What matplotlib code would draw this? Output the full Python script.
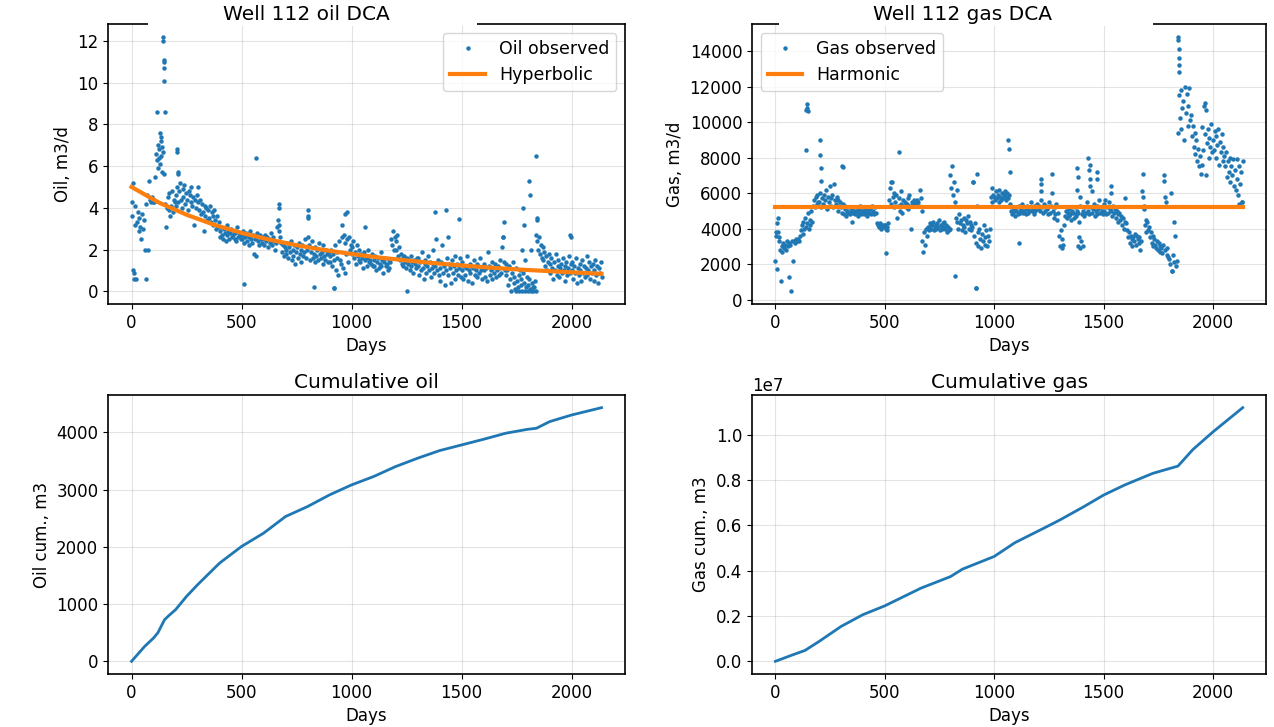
import numpy as np
import matplotlib
matplotlib.use("Agg")
import matplotlib.pyplot as plt
from matplotlib.patches import Rectangle

# daily-ish observations, one reading every 4 days (0 .. 2136)
rate_days = np.arange(0, 2137, 4)

oil_rate = [
    4.3, 3.6, 5.2, 0.9, 4.1, 0.6, 3.3, 3.8, 2.9, 3.5, 3.1, 2.5, 3.7, 3.0, 3.4, 2.0, 4.2, 0.6, 4.6, 2.0, 5.3, 4.4, 4.3, 4.5, 4.3,
    4.4, 4.3, 5.5, 6.6, 6.3, 7.0, 6.8, 6.1, 6.5, 7.2, 5.7, 6.7, 5.6, 4.2, 3.1, 4.0, 4.5, 3.9, 4.7, 3.6, 4.1, 4.8, 3.8, 4.4, 4.3,
    4.6, 4.1, 5.0, 4.3, 4.8, 5.2, 4.4, 4.0, 4.9, 4.5, 5.1, 4.2, 4.7, 4.4, 3.9, 4.8, 4.6, 4.3, 5.0, 4.1, 4.5, 3.2, 4.4, 4.0, 4.6,
    4.3, 5.0, 3.9, 4.4, 3.7, 4.2, 3.8, 2.9, 4.1, 3.6, 4.0, 3.4, 3.9, 3.5, 4.1, 3.3, 3.8, 3.6, 3.2, 3.9, 3.4, 3.0, 3.6, 3.1, 3.3,
    2.9, 2.6, 3.1, 2.7, 2.5, 3.0, 2.8, 2.4, 3.2, 2.7, 2.9, 2.5, 2.8, 3.0, 2.6, 2.7, 2.9, 2.5, 2.8, 2.4, 3.1, 2.6, 2.8, 2.7, 2.5,
    2.7, 2.5, 2.9, 2.3, 2.6, 2.8, 2.4, 2.7, 2.2, 2.6, 2.9, 2.5, 2.3, 2.7, 1.8, 2.5, 1.7, 2.6, 2.8, 2.4, 2.2, 2.7, 2.5, 2.3, 2.6,
    2.5, 2.2, 2.7, 2.4, 2.6, 2.1, 2.5, 2.3, 2.8, 2.4, 2.2, 2.6, 2.4, 2.0, 2.3, 3.1, 3.4, 2.9, 3.2, 2.6, 2.3, 1.9, 2.2, 1.7, 2.1,
    2.0, 1.8, 2.3, 1.6, 2.1, 1.9, 2.4, 1.5, 2.0, 1.7, 2.2, 1.3, 1.9, 2.1, 1.6, 2.3, 1.8, 2.0, 1.4, 2.2, 1.7, 1.9, 2.5, 1.6, 2.0,
    2.6, 3.6, 2.2, 1.5, 1.9, 2.4, 1.6, 1.8, 2.1, 1.4, 1.7, 2.0, 1.5, 2.3, 1.8, 1.6, 1.9, 1.3, 2.2, 1.7, 1.5, 2.0, 1.8, 1.4, 1.9,
    1.7, 1.4, 2.0, 1.2, 1.8, 1.5, 2.2, 1.0, 1.6, 1.9, 0.8, 2.4, 1.5, 1.3, 2.6, 1.1, 2.7, 0.9, 2.3, 1.8, 2.5, 1.4, 2.6, 2.0, 2.2,
    2.1, 1.8, 2.4, 1.6, 1.9, 1.3, 2.2, 1.7, 1.5, 2.0, 1.4, 1.8, 1.6, 1.1, 1.9, 1.5, 1.7, 1.2, 1.6, 2.0, 1.4, 1.5, 1.3, 1.8, 1.2,
    1.5, 1.2, 1.7, 1.0, 1.4, 1.6, 1.1, 1.3, 1.9, 1.2, 1.5, 0.9, 1.4, 1.6, 1.2, 1.3, 1.0, 1.5, 1.1, 1.4, 2.5, 2.2, 2.9, 2.0, 2.6,
    2.4, 2.0, 2.7, 1.7, 2.1, 1.5, 1.8, 1.3, 1.6, 1.2, 1.7, 1.4, 1.1, 1.6, 1.3, 1.5, 1.0, 1.7, 1.2, 1.4, 0.9, 1.5, 1.3, 1.1, 1.6,
    1.2, 1.6, 0.8, 1.4, 1.0, 1.9, 1.1, 0.6, 1.3, 1.5, 0.9, 1.2, 1.7, 1.0, 1.4, 0.7, 1.1, 1.3, 2.0, 0.9, 1.2, 2.5, 1.0, 1.5, 0.8,
    1.1, 0.5, 1.4, 2.2, 0.9, 1.2, 0.3, 1.0, 1.6, 2.6, 0.8, 1.3, 1.1, 0.4, 1.5, 0.9, 1.2, 1.7, 0.6, 1.0, 1.3, 0.8, 1.1, 1.6, 0.7,
    1.0, 1.4, 0.6, 1.2, 0.8, 1.1, 1.7, 0.5, 1.0, 1.3, 0.9, 1.2, 0.4, 1.1, 1.5, 0.8, 1.0, 1.3, 0.7, 1.2, 0.9, 1.6, 1.0, 0.6, 1.1,
    1.0, 1.3, 0.7, 1.1, 0.5, 1.9, 1.2, 0.8, 1.0, 1.4, 0.6, 1.1, 0.9, 1.3, 0.7, 1.0, 1.2, 0.8, 1.1, 1.5, 0.9, 2.1, 2.6, 1.4, 1.0,
    1.3, 0.8, 1.0, 0.3, 1.2, 0.6, 0.0, 0.9, 1.4, 0.4, 0.7, 0.1, 1.1, 0.5, 0.2, 0.8, 1.0, 0.3, 0.6, 0.0, 0.9, 0.4, 1.5, 0.2, 0.7,
    0.3, 0.0, 0.6, 0.1, 2.0, 0.4, 0.0, 0.2, 0.5, 0.0, 2.7, 2.4, 2.0, 2.6, 1.8, 2.2, 1.6, 2.1, 1.5, 1.9, 1.2, 1.7, 1.0, 1.4, 1.8,
    1.3, 0.9, 1.6, 1.1, 0.6, 1.4, 1.0, 1.8, 0.8, 1.2, 1.5, 0.7, 1.1, 1.3, 0.9, 1.6, 1.0, 0.5, 1.2, 1.4, 0.8, 1.1, 1.7, 0.9, 1.3,
    1.0, 1.4, 0.6, 1.2, 0.9, 1.6, 0.4, 1.1, 0.8, 1.3, 1.0, 0.5, 1.5, 0.9, 1.2, 0.7, 1.1, 1.7, 0.8, 1.0, 1.4, 0.6, 1.2, 0.9, 1.3,
    1.0, 0.5, 1.5, 0.8, 1.2, 0.4, 1.1, 0.9, 1.4, 0.7,
]

# spikes / outliers that fall between the 4-day readings
oil_extra_days = [8, 12, 16, 114, 122, 126, 130, 134, 138, 143, 145, 146, 147, 148, 149, 153, 205, 207, 212, 213,
                  510, 567, 668, 670, 802, 804, 830, 918, 922, 958, 970, 980, 1060, 1250, 1380, 1430, 1488,
                  1690, 1695, 1746, 1762, 1776, 1778, 1782, 1790, 1808, 1812, 1815, 1826, 1840, 1842, 1844, 1994, 1998]
oil_extra_vals = [1.0, 0.6, 3.2, 8.6, 5.9, 6.4, 7.6, 7.4, 6.9, 12.2, 12.0, 11.1, 11.0, 10.7, 10.1, 8.6, 6.8, 6.7, 5.7, 5.6,
                  0.35, 6.4, 4.2, 4.0, 3.9, 3.5, 0.2, 0.15, 0.15, 3.2, 3.7, 3.8, 3.1, 0.0, 3.8, 3.9, 3.45,
                  2.6, 3.3, 0.0, 0.0, 2.0, 4.0, 3.2, 0.0, 5.3, 4.6, 0.0, 0.2, 6.5, 3.5, 3.4, 2.7, 2.6]

# gas observations, thousand m3/d
gas_rate_k = [
    2.2, 3.8, 1.7, 4.6, 3.3, 2.8, 1.05, 3.0, 2.7, 3.2, 2.9, 3.1, 2.8, 3.3, 3.0, 3.2, 1.25, 3.1, 0.47, 3.3, 2.15, 3.3, 3.2, 3.4, 3.3,
    3.3, 3.4, 3.3, 3.6, 3.9, 4.2, 3.7, 4.4, 4.0, 4.6, 4.1, 4.3, 4.9, 4.0, 4.5, 4.2, 5.0, 4.4, 5.3, 5.6, 5.2, 5.8, 5.4, 5.9, 5.5,
    5.5, 6.0, 5.2, 5.7, 5.4, 5.9, 5.3, 5.6, 6.2, 5.1, 5.8, 5.5, 6.4, 5.3, 5.7, 5.9, 5.2, 6.5, 5.6, 5.4, 5.8, 5.0, 5.6, 5.3, 5.5,
    5.2, 4.9, 5.4, 4.8, 5.1, 5.3, 4.7, 5.0, 4.9, 5.2, 4.8, 5.0, 4.4, 5.1, 4.9, 5.0, 4.8, 5.2, 5.0, 4.7, 5.1, 4.9, 5.3, 4.8, 5.0,
    5.0, 4.8, 5.1, 4.9, 5.2, 4.7, 5.0, 4.9, 5.1, 4.8, 5.3, 4.9, 5.0, 4.8, 5.2, 4.9, 4.3, 4.2, 4.1, 4.3, 4.2, 4.0, 4.2, 4.1, 4.2,
    4.2, 4.0, 4.1, 3.9, 4.3, 5.6, 6.3, 5.4, 6.6, 5.8, 5.2, 6.0, 5.5, 5.9, 4.6, 5.3, 5.7, 5.0, 6.1, 5.4, 4.9, 5.6, 5.3, 5.5, 5.2,
    5.4, 5.7, 5.1, 5.9, 5.3, 4.0, 5.5, 5.4, 5.6, 5.3, 5.5, 5.4, 5.6, 5.5, 5.3, 6.2, 5.7, 5.0, 3.3, 2.7, 3.8, 3.1, 4.0, 3.6, 4.1,
    3.9, 4.1, 4.3, 4.0, 4.2, 4.4, 3.9, 4.1, 4.2, 4.0, 4.3, 4.1, 4.5, 3.9, 4.2, 4.0, 4.3, 4.1, 4.4, 4.0, 4.2, 3.8, 4.1, 3.9, 4.0,
    7.0, 6.3, 7.5, 5.9, 6.6, 5.5, 4.6, 6.2, 4.4, 4.0, 4.8, 4.3, 4.5, 3.9, 4.2, 4.6, 4.1, 3.8, 4.5, 4.3, 4.7, 4.0, 4.4, 4.2, 3.9,
    4.1, 6.6, 3.6, 4.3, 3.2, 5.3, 3.8, 3.0, 4.0, 3.4, 2.9, 3.7, 3.3, 4.2, 3.5, 3.1, 3.9, 3.0, 3.6, 3.3, 4.0, 5.8, 5.5, 6.3, 5.9,
    5.8, 5.6, 6.1, 5.7, 5.9, 5.5, 6.2, 5.8, 5.6, 6.0, 5.7, 5.9, 6.1, 5.6, 5.8, 6.0, 5.7, 5.9, 5.4, 5.0, 4.8, 5.2, 4.9, 5.1, 4.7,
    5.0, 5.2, 4.8, 5.3, 5.0, 4.9, 5.1, 5.4, 4.9, 5.0, 5.2, 4.8, 5.1, 5.3, 4.9, 5.0, 5.2, 5.5, 5.0, 5.1, 4.8, 5.3, 5.0, 5.2, 5.4,
    5.1, 5.3, 5.0, 5.6, 6.1, 5.2, 4.9, 5.4, 5.0, 5.3, 5.1, 4.8, 5.2, 5.5, 4.9, 5.3, 6.0, 5.0, 4.6, 5.2, 4.8, 5.4, 4.5, 4.9, 3.6,
    3.0, 3.9, 2.9, 3.4, 3.1, 4.2, 4.7, 5.0, 4.6, 4.9, 5.1, 4.7, 4.8, 4.5, 5.0, 4.9, 4.6, 5.2, 4.8, 4.7, 5.0, 4.9, 4.4, 5.3, 3.3,
    4.8, 3.0, 5.0, 4.7, 5.2, 4.9, 5.5, 5.0, 4.8, 7.6, 6.4, 5.2, 4.9, 5.1, 5.4, 4.7, 5.0, 5.3, 4.8, 5.1, 5.6, 4.9, 5.2, 5.0, 4.8,
    5.4, 5.0, 5.6, 4.8, 5.2, 4.9, 5.5, 5.1, 6.4, 5.0, 4.7, 5.3, 4.9, 5.1, 4.6, 5.0, 4.8, 4.4, 4.9, 4.5, 4.7, 4.2, 4.6, 4.0, 4.4,
    5.7, 4.3, 3.9, 3.5, 3.8, 3.2, 3.6, 3.4, 3.0, 3.5, 3.3, 3.7, 3.1, 3.6, 3.4, 3.2, 3.5, 2.8, 3.3, 6.1, 7.1, 5.3, 4.2, 4.5, 3.8,
    4.4, 3.9, 4.1, 3.5, 3.8, 3.2, 3.6, 3.0, 3.4, 3.1, 2.9, 3.3, 2.8, 3.2, 2.7, 3.0, 2.9, 2.6, 3.1, 7.0, 2.8, 5.5, 2.5, 2.9, 2.4,
    2.3, 2.0, 6.0, 1.6, 2.5, 4.4, 2.1, 3.6, 1.9, 2.2, 9.4, 11.5, 10.2, 11.8, 9.6, 10.8, 11.2, 9.0, 12.0, 10.5, 11.6, 9.8, 10.9, 11.9, 10.1,
    10.4, 9.2, 9.8, 8.6, 9.4, 8.2, 9.0, 7.8, 8.5, 7.5, 8.1, 7.1, 9.7, 7.6, 8.4, 10.9, 9.3, 7.0, 8.8, 9.6, 8.0, 9.1, 8.6, 9.9, 8.3,
    9.0, 8.4, 9.5, 8.0, 9.2, 8.7, 9.6, 7.6, 8.9, 8.3, 9.3, 7.8, 8.6, 8.1, 7.5, 8.3, 6.9, 7.8, 7.2, 8.0, 6.6, 7.5, 7.0, 7.9, 6.4,
    7.3, 6.2, 7.9, 6.8, 5.9, 7.5, 6.5, 7.2, 5.5, 7.8,
]

gas_extra_days = [3, 6, 10, 18, 140, 142, 144, 146, 148, 203, 205, 207, 209, 305, 307, 505, 528, 567,
                  820, 903, 915, 918, 920, 1065, 1068, 1073, 1115, 1213, 1215, 1265,
                  1377, 1379, 1382, 1384, 1386, 1390, 1392, 1430, 1434, 1440, 1448, 1470, 1472,
                  1532, 1682, 1685, 1778, 1782, 1812, 1840, 1841, 1843, 1844, 1845, 1846, 1962, 1966, 2120, 2132]
gas_extra_k = [3.6, 4.3, 3.8, 3.5, 8.45, 10.7, 11.0, 10.8, 10.6, 8.15, 9.0, 7.4, 6.7, 7.5, 7.45, 2.65, 6.6, 8.3,
               1.35, 6.6, 0.65, 0.65, 7.1, 9.0, 8.5, 7.2, 3.2, 6.8, 6.5, 7.1,
               6.2, 7.4, 6.9, 3.0, 3.5, 2.9, 5.8, 8.0, 7.3, 6.8, 6.1, 7.2, 6.8,
               6.0, 5.8, 5.1, 6.7, 5.8, 1.6, 14.8, 14.6, 14.1, 13.6, 13.2, 12.8, 11.1, 10.7, 5.4, 5.5]

# fitted curves
hyp_days = [0, 125, 250, 375, 500, 625, 750, 875, 1000, 1125, 1250, 1375, 1500, 1625, 1750, 1875, 2000, 2136]
hyp_rate = [5.00, 4.25, 3.67, 3.19, 2.80, 2.48, 2.21, 1.98, 1.79, 1.62, 1.48, 1.35, 1.24, 1.14, 1.05, 0.98, 0.91, 0.84]

harm_days = [0, 2136]
harm_rate = [5190, 5190]

# cumulative production
cum_oil_days = [0, 60, 100, 120, 150, 170, 200, 250, 300, 400, 500, 600, 700, 800, 900, 1000, 1100,
                1200, 1300, 1400, 1500, 1600, 1700, 1800, 1840, 1900, 2000, 2136]
cum_oil = [0, 262, 407, 500, 727, 800, 901, 1134, 1337, 1715, 2006, 2238, 2529, 2703, 2907, 3081, 3227,
           3401, 3547, 3680, 3779, 3878, 3983, 4052, 4070, 4186, 4302, 4430]

cum_gas_days = [0, 80, 135, 200, 300, 400, 500, 665, 800, 855, 1000, 1095, 1225, 1300, 1410, 1500,
                1595, 1670, 1725, 1840, 1908, 2000, 2136]
cum_gas_1e7 = [0, 0.029, 0.048, 0.088, 0.154, 0.206, 0.245, 0.323, 0.374, 0.407, 0.463, 0.524, 0.587,
               0.624, 0.683, 0.734, 0.778, 0.808, 0.830, 0.862, 0.935, 1.013, 1.120]

assert len(oil_rate) == len(rate_days) and len(gas_rate_k) == len(rate_days)

plt.rcParams.update({
    "font.family": "DejaVu Sans",
    "xtick.labelsize": 12,
    "ytick.labelsize": 12,
    "axes.labelsize": 12,
    "axes.titlesize": 14.5,
    "legend.fontsize": 12.5,
    "axes.linewidth": 1.2,
})

fig = plt.figure(figsize=(12.74, 7.27), dpi=100)
ax_oil = fig.add_axes([0.0848, 0.5818, 0.4058, 0.3851])
ax_gas = fig.add_axes([0.5903, 0.5818, 0.4035, 0.3851])
ax_coil = fig.add_axes([0.0848, 0.0729, 0.4058, 0.3838])
ax_cgas = fig.add_axes([0.5903, 0.0729, 0.4035, 0.3838])

oil_t = np.concatenate([rate_days, oil_extra_days])
oil_q = np.concatenate([oil_rate, oil_extra_vals])
gas_t = np.concatenate([rate_days, gas_extra_days])
gas_q = np.concatenate([gas_rate_k, gas_extra_k]) * 1000

ax_oil.plot(oil_t, oil_q, ".", color="C0", ms=4.4, label="Oil observed")
ax_oil.plot(hyp_days, hyp_rate, color="C1", lw=3, label="Hyperbolic")
ax_oil.set_ylabel("Oil, m3/d")
ax_oil.set_xlabel("Days")
ax_oil.set_title("Well 112 oil DCA", x=0.383, pad=1.5, zorder=6)
ax_oil.legend(loc="upper right")

ax_gas.plot(gas_t, gas_q, ".", color="C0", ms=4.4, label="Gas observed")
ax_gas.plot(harm_days, harm_rate, color="C1", lw=3, label="Harmonic")
ax_gas.set_ylabel("Gas, m3/d")
ax_gas.set_xlabel("Days")
ax_gas.set_title("Well 112 gas DCA", x=0.409, pad=1.5, zorder=6)
ax_gas.legend(loc="upper left")

ax_coil.plot(cum_oil_days, cum_oil, color="C0", lw=2)
ax_coil.set_ylabel("Oil cum., m3")
ax_coil.set_xlabel("Days")
ax_coil.set_title("Cumulative oil", pad=5)

ax_cgas.plot(cum_gas_days, np.array(cum_gas_1e7) * 1e7, color="C0", lw=2)
ax_cgas.set_ylabel("Gas cum., m3")
ax_cgas.set_xlabel("Days")
ax_cgas.set_title("Cumulative gas", pad=5)

for ax in (ax_oil, ax_gas, ax_coil, ax_cgas):
    ax.grid(True, alpha=0.35)
    ax.set_xticks([0, 500, 1000, 1500, 2000])

# gaps in the top frame behind the upper titles
for ax, x0, x1 in ((ax_oil, 0.078, 0.713), (ax_gas, 0.052, 0.780)):
    ax.add_patch(Rectangle((x0, 0.994), x1 - x0, 0.02, transform=ax.transAxes,
                           facecolor="white", edgecolor="none", clip_on=False, zorder=2.6))

fig.savefig("out.png", dpi=100)
